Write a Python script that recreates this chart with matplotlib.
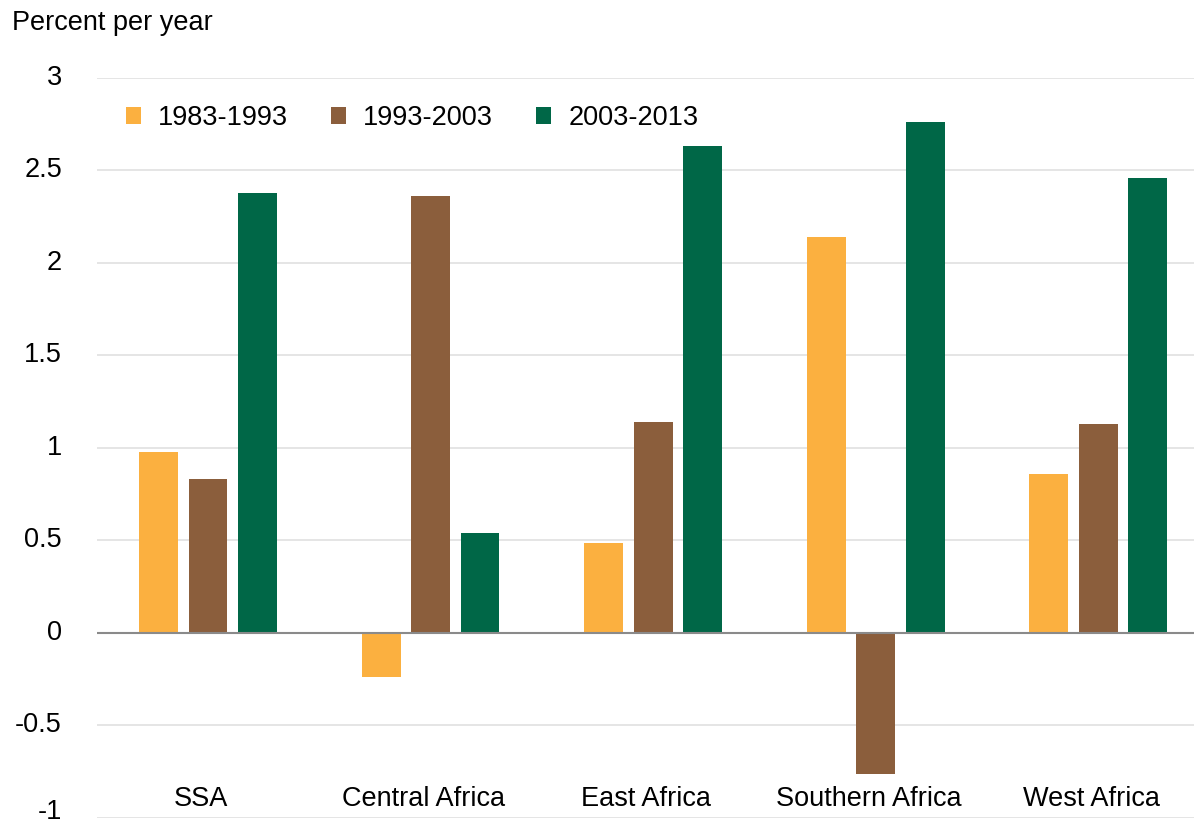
import matplotlib

matplotlib.use("Agg")
import matplotlib.pyplot as plt
import matplotlib.transforms as mtransforms
import numpy as np

plt.rcParams["font.family"] = ["Liberation Sans", "DejaVu Sans"]

regions = ["SSA", "Central Africa", "East Africa", "Southern Africa", "West Africa"]
periods = ["1983-1993", "1993-2003", "2003-2013"]
p1983 = [0.98, -0.24, 0.485, 2.14, 0.86]
p1993 = [0.83, 2.36, 1.14, -0.76, 1.13]
p2003 = [2.38, 0.54, 2.63, 2.76, 2.46]
colors = ["#FBB040", "#8B5E3C", "#006747"]

FS = 19.5

fig = plt.figure(figsize=(11.94, 8.25), dpi=100)
ax = fig.add_axes([0.081, 0.0085, 0.919, 0.897])

x = np.arange(len(regions))
w = 0.175
step = 0.222
for i, (vals, lab, c) in enumerate(zip([p1983, p1993, p2003], periods, colors)):
    ax.bar(x + (i - 1) * step, vals, w, color=c, label=lab, zorder=3)

ax.set_ylim(-1, 3)
ax.set_xlim(-0.5, 4.43)
ax.set_yticks(np.arange(-1, 3.01, 0.5))
ax.set_yticklabels(["-1", "-0.5", "0", "0.5", "1", "1.5", "2", "2.5", "3"])
ax.grid(axis="y", color="#e3e3e3", lw=1.3, zorder=0)
ax.axhline(0, color="#8a8a8a", lw=1.5, zorder=4)
ax.tick_params(axis="y", length=0, pad=25, labelsize=FS)
ax.set_xticks([])
for s in ax.spines.values():
    s.set_visible(False)

# labels sit a few pixels above their gridline; the bottom one a bit more
for lbl in ax.get_yticklabels():
    dy = 9 if lbl.get_text() == "-1" else 3
    shift = mtransforms.ScaledTranslation(0, dy / 100, fig.dpi_scale_trans)
    lbl.set_transform(lbl.get_transform() + shift)

for xi, name in zip(x, regions):
    ax.text(xi - 0.03, -0.9, name, ha="center", va="center", fontsize=FS)

fig.text(0.01, 0.972, "Percent per year", fontsize=FS, va="center")

ax.legend(loc="center left", bbox_to_anchor=(0.0264, 0.946), ncol=3, frameon=False,
          fontsize=FS, handlelength=0.55, handleheight=0.55, handletextpad=0.63,
          columnspacing=1.6, borderpad=0, borderaxespad=0)

fig.savefig("out.png", dpi=100, facecolor="white")
